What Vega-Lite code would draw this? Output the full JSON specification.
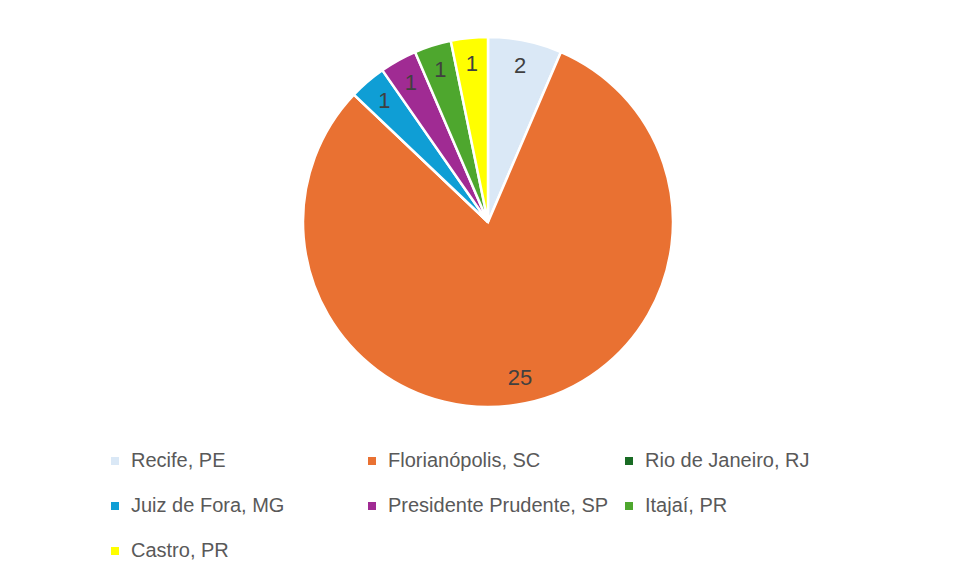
{
  "$schema": "https://vega.github.io/schema/vega-lite/v6.json",
  "autosize": {"type": "none"},
  "width": 934,
  "height": 444,
  "padding": {"left": 21, "top": 0, "right": 0, "bottom": 135},
  "background": "white",
  "config": {
    "view": {"stroke": null},
    "font": "Liberation Sans, Arial, sans-serif"
  },
  "data": {
    "values": [
      {"cidade": "Recife, PE", "valor": 2, "ordem": 1},
      {"cidade": "Florianópolis, SC", "valor": 25, "ordem": 2},
      {"cidade": "Rio de Janeiro, RJ", "valor": 0, "ordem": 3},
      {"cidade": "Juiz de Fora, MG", "valor": 1, "ordem": 4},
      {"cidade": "Presidente Prudente, SP", "valor": 1, "ordem": 5},
      {"cidade": "Itajaí, PR", "valor": 1, "ordem": 6},
      {"cidade": "Castro, PR", "valor": 1, "ordem": 7}
    ]
  },
  "encoding": {
    "theta": {"field": "valor", "type": "quantitative", "stack": true},
    "order": {"field": "ordem", "type": "quantitative", "sort": "ascending"},
    "color": {
      "field": "cidade",
      "type": "nominal",
      "sort": ["Recife, PE", "Florianópolis, SC", "Rio de Janeiro, RJ", "Juiz de Fora, MG", "Presidente Prudente, SP", "Itajaí, PR", "Castro, PR"],
      "scale": {
        "domain": ["Recife, PE", "Florianópolis, SC", "Rio de Janeiro, RJ", "Juiz de Fora, MG", "Presidente Prudente, SP", "Itajaí, PR", "Castro, PR"],
        "range": ["#DAE8F6", "#E97132", "#196B24", "#0F9ED5", "#A02B93", "#4EA72E", "#FFFF00"]
      },
      "legend": {
        "title": null,
        "orient": "none",
        "legendX": 84,
        "legendY": 451,
        "direction": "horizontal",
        "columns": 3,
        "gridAlign": "all",
        "padding": 0,
        "columnPadding": 10,
        "rowPadding": 25,
        "symbolType": "square",
        "symbolSize": 64,
        "symbolStrokeWidth": 0,
        "labelFont": "Liberation Sans, Arial, sans-serif",
        "labelFontSize": 20,
        "labelColor": "#595959",
        "labelOffset": 6,
        "labelLimit": 400
      }
    }
  },
  "layer": [
    {
      "mark": {"type": "arc", "outerRadius": 185, "stroke": "white", "strokeWidth": 2.5}
    },
    {
      "transform": [{"filter": "datum.valor > 0"}],
      "mark": {
        "type": "text",
        "radius": 159,
        "fontSize": 22,
        "font": "Liberation Sans, Arial, sans-serif"
      },
      "encoding": {
        "text": {"field": "valor", "type": "quantitative"},
        "color": {"value": "#404040"}
      }
    }
  ]
}
